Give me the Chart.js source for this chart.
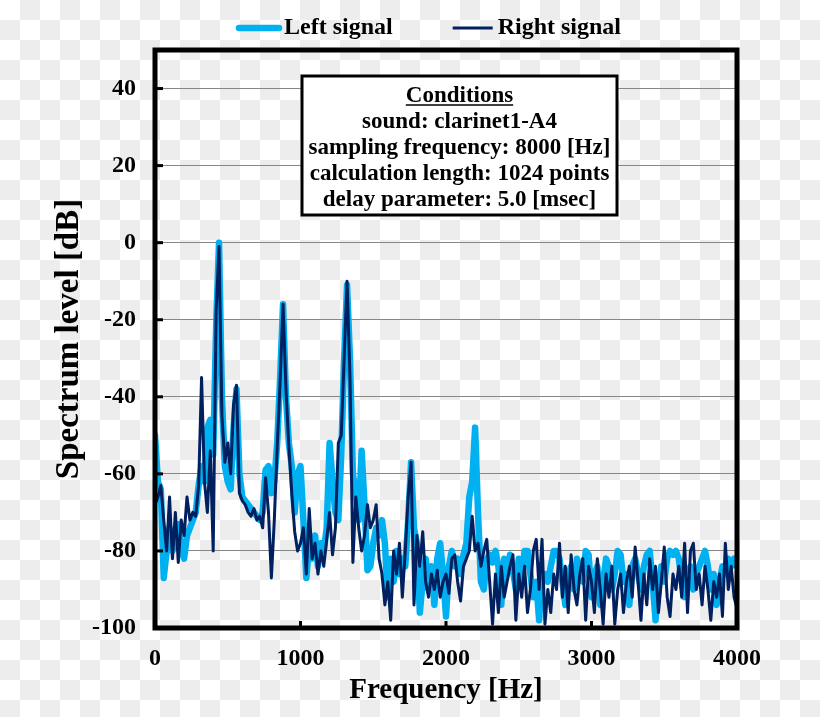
<!DOCTYPE html>
<html>
<head>
<meta charset="utf-8">
<script src="https://cdn.jsdelivr.net/npm/chart.js@4/dist/chart.umd.min.js"></script>
<style>
  html, body { margin: 0; padding: 0; }
  body {
    width: 820px; height: 717px;
    background-color: #fff;
    background-image:
      linear-gradient(45deg, #ededed 25%, transparent 25%, transparent 75%, #ededed 75%),
      linear-gradient(45deg, #ededed 25%, transparent 25%, transparent 75%, #ededed 75%);
    background-size: 40px 40px;
    background-position: 0 0, 20px 20px;
  }
  #spectrum { display: block; }
</style>
</head>
<body>
<canvas id="spectrum" width="820" height="717"></canvas>
<script>
// frequency bins, every 20 Hz from 0 to 4000
const freqHz = Array.from({length: 201}, (_, i) => i * 20);

// spectrum level [dB]
const leftSignal = [
  -50, -62, -64, -87, -80, -74, -80, -76, -73, -80,
  -82, -76, -74, -72, -70, -63, -58, -62, -48, -46,
  -55, -22,   0, -40, -58, -62, -64, -48, -38, -60,
  -66, -67, -68, -69, -70, -71, -72, -70, -59, -58,
  -65, -62, -52, -35, -16, -40, -52, -58, -70, -60,
  -58, -72, -87, -78, -82, -76, -84, -78, -80, -74,
  -52, -62, -70, -72, -55, -30, -11, -30, -60, -65,
  -72, -54, -68, -85, -84, -78, -74, -76, -72, -78,
  -92, -82, -88, -80, -86, -82, -84, -72, -57, -74,
  -78, -96, -88, -82, -90, -84, -94, -82, -78, -86,
  -97, -84, -80, -84, -82, -86, -81, -78, -66, -62,
  -48, -70, -88, -90, -82, -81, -83, -80, -84, -94,
  -82, -86, -81, -85, -90, -82, -88, -80, -80, -86,
  -92, -88, -98, -86, -86, -88, -84, -80, -80, -82,
  -88, -94, -86, -84, -90, -82, -84, -88, -80, -81,
  -92, -86, -84, -94, -88, -82, -84, -90, -86, -80,
  -81, -88, -86, -94, -84, -82, -86, -90, -84, -81,
  -80, -88, -98, -90, -84, -88, -82, -80, -81, -80,
  -82, -88, -92, -86, -84, -90, -86, -84, -82, -80,
  -84, -90, -86, -94, -88, -84, -86, -82, -84, -82,
  -84
];

const rightSignal = [
  -68, -66, -63, -72, -80, -66, -82, -70, -83, -72,
  -76, -66, -72, -70, -71, -63, -35, -62, -70, -54,
  -80, -18,  -1, -45, -57, -52, -60, -42, -37, -65,
  -67, -68, -70, -71, -69, -72, -71, -74, -61, -70,
  -87, -72, -53, -36, -16, -38, -53, -65, -75, -80,
  -78, -74, -86, -69, -82, -78, -86, -80, -84, -77,
  -70, -81, -74, -52, -50, -30, -10, -35, -83, -66,
  -74, -80, -76, -68, -74, -72, -68, -82, -86, -94,
  -88, -98, -80, -86, -78, -92, -80, -66, -57, -94,
  -76, -84, -75, -88, -92, -86, -90, -85, -92, -88,
  -86, -91, -82, -81, -88, -93, -84, -82, -80, -71,
  -80, -78, -84, -80, -77, -88, -99, -86, -96, -84,
  -92, -88, -84, -81, -98, -86, -92, -84, -96, -90,
  -80, -77, -90, -77, -99, -90, -96, -86, -90, -78,
  -92, -84, -96, -81, -90, -94, -86, -82, -98, -84,
  -88, -96, -82, -90, -99, -86, -92, -84, -99, -90,
  -86, -96, -88, -84, -92, -79, -88, -98, -86, -94,
  -82, -90, -84, -96, -88, -79, -92, -97, -86, -90,
  -84, -92, -78, -96, -80, -78, -90, -86, -94, -84,
  -90, -98, -88, -92, -86, -97, -78, -90, -84, -92,
  -95
];

const seriesLabels = ['Left signal', 'Right signal'];
const conditionLines = [
  'Conditions',
  'sound: clarinet1-A4',
  'sampling frequency: 8000 [Hz]',
  'calculation length: 1024 points',
  'delay parameter: 5.0 [msec]'
];

const SERIF = "'Liberation Serif', 'Times New Roman', serif";

function toPoints(values){
  return values.map((v, i) => ({x: freqHz[i], y: v}));
}

// frame, inward ticks, legend and the conditions box
const decorations = {
  id: 'decorations',
  afterDatasetsDraw(chart){
    const ctx = chart.ctx;
    const a = chart.chartArea;
    const xs = chart.scales.x;
    const ys = chart.scales.y;
    ctx.save();

    ctx.strokeStyle = '#000';
    ctx.lineWidth = 3;
    ys.ticks.forEach(t => {
      const py = ys.getPixelForValue(t.value);
      ctx.beginPath();
      ctx.moveTo(a.left, py);
      ctx.lineTo(a.left + 8, py);
      ctx.stroke();
    });
    xs.ticks.forEach(t => {
      const px = xs.getPixelForValue(t.value);
      ctx.beginPath();
      ctx.moveTo(px, a.bottom);
      ctx.lineTo(px, a.bottom - 7);
      ctx.stroke();
    });

    ctx.lineWidth = 5;
    ctx.strokeRect(a.left, a.top, a.right - a.left, a.bottom - a.top);

    // conditions box
    const bx = a.left + 147, by = a.top + 26, bw = 315, bh = 139;
    ctx.fillStyle = '#fff';
    ctx.fillRect(bx, by, bw, bh);
    ctx.lineWidth = 3;
    ctx.strokeRect(bx, by, bw, bh);
    ctx.fillStyle = '#000';
    ctx.font = 'bold 23px ' + SERIF;
    ctx.textAlign = 'center';
    ctx.textBaseline = 'alphabetic';
    const cx = bx + bw / 2;
    conditionLines.forEach((line, i) => {
      const base = by + 26 + i * 26;
      ctx.fillText(line, cx, base);
      if(i === 0){
        const w = ctx.measureText(line).width;
        ctx.lineWidth = 1.5;
        ctx.beginPath();
        ctx.moveTo(cx - w / 2, base + 3);
        ctx.lineTo(cx + w / 2, base + 3);
        ctx.stroke();
      }
    });
    ctx.restore();
  },
  afterDraw(chart){
    const ctx = chart.ctx;
    const a = chart.chartArea;
    ctx.save();
    ctx.font = 'bold 24px ' + SERIF;
    ctx.textAlign = 'left';
    ctx.textBaseline = 'middle';
    let lx = a.left + 82;
    const ly = 28;
    chart.data.datasets.forEach(ds => {
      ctx.strokeStyle = ds.borderColor;
      ctx.lineWidth = ds.borderWidth;
      ctx.lineCap = ds.borderCapStyle || 'butt';
      ctx.beginPath();
      ctx.moveTo(lx + 2, ly);
      ctx.lineTo(lx + 42, ly);
      ctx.stroke();
      ctx.fillStyle = '#000';
      ctx.fillText(ds.label, lx + 47, ly);
      lx += 47 + ctx.measureText(ds.label).width + 58;
    });
    ctx.restore();
  }
};

const ctx = document.getElementById('spectrum').getContext('2d');
const spectrumChart = new Chart(ctx, {
  type: 'line',
  data: {
    datasets: [{
      label: seriesLabels[0],
      data: toPoints(leftSignal),
      borderColor: '#00b0f0',
      borderWidth: 6.5,
      borderCapStyle: 'round',
      borderJoinStyle: 'round',
      pointRadius: 0,
      tension: 0,
      fill: false,
      order: 2
    }, {
      label: seriesLabels[1],
      data: toPoints(rightSignal),
      borderColor: '#002060',
      borderWidth: 3,
      borderJoinStyle: 'round',
      pointRadius: 0,
      tension: 0,
      fill: false,
      order: 1
    }]
  },
  options: {
    responsive: false,
    animation: false,
    devicePixelRatio: 1,
    layout: {
      padding: {top: 50, right: 83, bottom: 0, left: 0}
    },
    plugins: {
      legend: {display: false},
      tooltip: {enabled: false}
    },
    scales: {
      x: {
        type: 'linear',
        min: 0,
        max: 4000,
        afterFit: scale => { scale.height = 89; },
        grid: {display: false, drawTicks: false},
        border: {display: false},
        ticks: {
          stepSize: 1000,
          padding: 16,
          color: '#000',
          font: {family: SERIF, size: 24, weight: 'bold'},
          callback: value => String(value)
        },
        title: {
          display: true,
          text: 'Frequency [Hz]',
          color: '#000',
          font: {family: SERIF, size: 29, weight: 'bold'},
          padding: {top: 0, bottom: 9}
        }
      },
      y: {
        min: -100,
        max: 50,
        afterFit: scale => { scale.width = 155; },
        afterBuildTicks: scale => {
          scale.ticks = scale.ticks.filter(t => t.value <= 40);
        },
        grid: {color: '#868686', lineWidth: 1, drawTicks: false},
        border: {display: false},
        ticks: {
          stepSize: 20,
          padding: 19,
          color: '#000',
          font: {family: SERIF, size: 24, weight: 'bold'}
        },
        title: {
          display: true,
          text: 'Spectrum level [dB]',
          color: '#000',
          font: {family: SERIF, size: 33, weight: 'bold'},
          padding: {top: 50, bottom: 0}
        }
      }
    }
  },
  plugins: [decorations]
});
</script>
</body>
</html>
